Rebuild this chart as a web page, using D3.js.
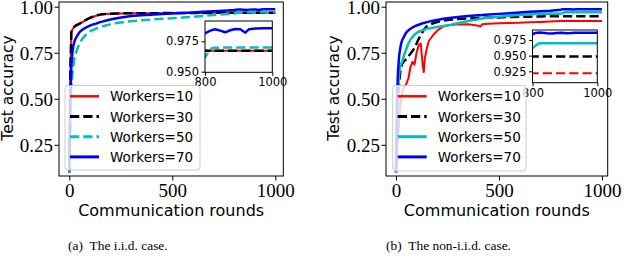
<!DOCTYPE html>
<html><head><meta charset="utf-8">
<script src="https://cdn.jsdelivr.net/npm/d3@7"></script>
<style>
html,body{margin:0;padding:0;background:#fff;}
svg{display:block;}
</style>
</head><body>
<svg id="c" width="624" height="260"></svg>
<script>
// ---------------- data ----------------
const rounds = [0,5,10,15,20,25,30,40,50,60,70,80,90,100,110,120,130,135,140,150,160,180,200,230,260,300,350,400,410,420,450,500,550,600,650,700,750,800,810,820,830,845,860,875,890,905,920,930,950,975,1000];

const seriesNames = ["Workers=10","Workers=30","Workers=50","Workers=70"];

// (a) i.i.d.
const iidW10 = [0.10,0.62,0.86,0.875,0.885,0.89,0.895,0.90,0.907,0.913,0.92,0.927,0.933,0.938,0.943,0.947,0.951,0.953,0.954,0.957,0.959,0.961,0.962,0.963,0.963,0.964,0.964,0.965,0.965,0.965,0.965,0.966,0.966,0.966,0.966,0.967,0.967,0.9673,0.9673,0.9673,0.9673,0.9673,0.9673,0.9673,0.9673,0.9673,0.9673,0.9673,0.9673,0.9673,0.9673];
const iidW30 = [0.10,0.65,0.87,0.88,0.885,0.893,0.897,0.903,0.908,0.915,0.922,0.928,0.934,0.939,0.944,0.948,0.952,0.953,0.955,0.957,0.959,0.961,0.962,0.963,0.964,0.964,0.965,0.965,0.965,0.965,0.965,0.966,0.966,0.966,0.966,0.967,0.967,0.9673,0.9673,0.9673,0.9673,0.9673,0.9673,0.9673,0.9673,0.9673,0.9673,0.9673,0.9673,0.9673,0.9673];
const iidW50 = [0.10,0.30,0.55,0.63,0.68,0.72,0.74,0.775,0.80,0.82,0.835,0.847,0.857,0.865,0.871,0.876,0.881,0.883,0.885,0.889,0.893,0.899,0.904,0.911,0.916,0.921,0.926,0.930,0.931,0.932,0.934,0.937,0.941,0.945,0.950,0.955,0.959,0.9618,0.9660,0.9692,0.9697,0.9698,0.9698,0.9698,0.9698,0.9698,0.9698,0.9698,0.9698,0.9698,0.9698];
const iidW70 = [0.11,0.48,0.68,0.75,0.79,0.81,0.825,0.845,0.862,0.872,0.88,0.886,0.892,0.897,0.901,0.905,0.908,0.910,0.912,0.916,0.919,0.925,0.930,0.937,0.943,0.949,0.953,0.956,0.957,0.958,0.960,0.963,0.966,0.969,0.972,0.975,0.978,0.9816,0.9830,0.9842,0.9849,0.9838,0.9824,0.9841,0.9851,0.9849,0.9821,0.9849,0.9855,0.9857,0.9857];

// (b) non-i.i.d.
const nonW10 = [0.10,0.20,0.30,0.38,0.45,0.50,0.54,0.565,0.58,0.61,0.67,0.70,0.685,0.75,0.79,0.80,0.68,0.645,0.72,0.775,0.815,0.845,0.87,0.893,0.90,0.903,0.905,0.896,0.892,0.905,0.908,0.91,0.912,0.913,0.915,0.917,0.919,0.922,0.922,0.922,0.922,0.922,0.922,0.922,0.922,0.922,0.922,0.922,0.922,0.922,0.922];
const nonW30 = [0.10,0.30,0.48,0.58,0.64,0.67,0.69,0.705,0.715,0.73,0.745,0.76,0.775,0.80,0.825,0.845,0.865,0.875,0.882,0.893,0.90,0.91,0.917,0.924,0.929,0.933,0.936,0.938,0.939,0.940,0.941,0.942,0.944,0.945,0.946,0.947,0.948,0.9485,0.9485,0.9485,0.9485,0.9485,0.9485,0.9485,0.9485,0.9485,0.9485,0.9485,0.9485,0.9485,0.9485];
const nonW50 = [0.10,0.35,0.55,0.63,0.67,0.69,0.70,0.74,0.77,0.80,0.82,0.835,0.848,0.857,0.864,0.869,0.873,0.875,0.877,0.88,0.882,0.886,0.89,0.895,0.90,0.91,0.922,0.932,0.934,0.936,0.94,0.946,0.951,0.955,0.959,0.962,0.963,0.962,0.966,0.9697,0.9697,0.9697,0.9697,0.9697,0.9697,0.9697,0.9697,0.9697,0.9697,0.9697,0.9697];
const nonW70 = [0.11,0.50,0.65,0.73,0.77,0.80,0.818,0.84,0.86,0.871,0.88,0.887,0.893,0.898,0.902,0.906,0.91,0.911,0.913,0.916,0.919,0.924,0.928,0.934,0.938,0.944,0.949,0.953,0.954,0.955,0.957,0.961,0.965,0.969,0.972,0.975,0.978,0.9840,0.9862,0.9868,0.9866,0.9858,0.9852,0.9860,0.9865,0.9858,0.9860,0.9866,0.9866,0.9866,0.9866];

const xTicks = [0, 500, 1000];
const yTicks = [0.25, 0.50, 0.75, 1.00];
const yTickLabels = ["0.25", "0.50", "0.75", "1.00"];
const insetXTicks = [800, 1000];
const insetYTicksA = [0.950, 0.975];
const insetYTicksB = [0.925, 0.950, 0.975];
const xLabel = "Communication rounds";
const yLabel = "Test accuracy";
const captions = ["(a)\u00a0\u00a0The i.i.d. case.", "(b)\u00a0\u00a0The non-i.i.d. case."];

// ---------------- styles ----------------
const colors = ["#ff0000", "#000000", "#00bfbf", "#0000ff"];
const widths = [2, 2.5, 2.5, 2.5];

const svg = d3.select("#c");
let clipId = 0;

function drawPanel(p) {
  const g = svg.append("g");
  const x = d3.scaleLinear().domain(p.xDomain).range([p.left, p.right]);
  const y = d3.scaleLinear().domain(p.yDomain).range([p.bottom, p.top]);
  const cid = "clip" + (clipId++);
  g.append("clipPath").attr("id", cid).append("rect")
    .attr("x", p.left).attr("y", p.top).attr("width", p.right - p.left).attr("height", p.bottom - p.top);

  const line = d3.line().x((d, i) => x(rounds[i])).y(d => y(d));
  const lg = g.append("g").attr("clip-path", `url(#${cid})`);
  p.series.forEach((s, k) => {
    lg.append("path").datum(s).attr("d", line).attr("fill", "none")
      .attr("stroke", colors[k]).attr("stroke-width", widths[k])
      .attr("stroke-dasharray", p.dashed[k] ? "9.25,4" : null)
      .attr("stroke-linejoin", "round");
  });

  // axes
  const xa = g.append("g").attr("transform", `translate(0,${p.bottom})`)
    .call(d3.axisBottom(x).tickValues(xTicks).tickFormat(d3.format("d")).tickSize(4.5).tickPadding(3));
  const ya = g.append("g").attr("transform", `translate(${p.left},0)`)
    .call(d3.axisLeft(y).tickValues(yTicks).tickFormat((d, i) => yTickLabels[i]).tickSize(4.5).tickPadding(1.5));
  [xa, ya].forEach(a => {
    a.select(".domain").remove();
    a.selectAll("line").attr("stroke", "#000").attr("stroke-width", 1);
    a.selectAll("text").attr("font-family", "'Liberation Serif', 'Times New Roman', serif")
      .attr("font-size", 19).attr("fill", "#000");
  });
  xa.selectAll("text").attr("dy", null).attr("y", 20.5);
  ya.selectAll("text").attr("dy", "0.36em");

  g.append("rect").attr("x", p.left).attr("y", p.top).attr("width", p.right - p.left).attr("height", p.bottom - p.top)
    .attr("fill", "none").attr("stroke", "#000").attr("stroke-width", 1);

  // axis titles
  g.append("text").attr("x", (p.left + p.right) / 2).attr("y", 215.7).attr("text-anchor", "middle")
    .attr("font-family", "'DejaVu Sans', sans-serif").attr("font-size", 16).text(xLabel);
  g.append("text").attr("transform", `translate(${p.yLabelX},88) rotate(-90)`).attr("text-anchor", "middle")
    .attr("font-family", "'DejaVu Sans', sans-serif").attr("font-size", 15.5).text(yLabel);

  // caption
  g.append("text").attr("x", p.capX).attr("y", 250).attr("font-family", "'Liberation Serif', serif")
    .attr("font-size", 13.4).text(p.caption);

  // inset
  const ins = p.inset;
  const ix = d3.scaleLinear().domain([800, 1000]).range([ins.left, ins.right]);
  const iy = d3.scaleLinear().domain(ins.yDomain).range([ins.bottom, ins.top]);
  const ig = g.append("g");
  ig.append("rect").attr("x", ins.left).attr("y", ins.top).attr("width", ins.right - ins.left)
    .attr("height", ins.bottom - ins.top).attr("fill", "#fff");
  const icid = "clip" + (clipId++);
  ig.append("clipPath").attr("id", icid).append("rect")
    .attr("x", ins.left).attr("y", ins.top).attr("width", ins.right - ins.left).attr("height", ins.bottom - ins.top);
  const iline = d3.line().defined((d, i) => rounds[i] >= 750).x((d, i) => ix(rounds[i])).y(d => iy(d));
  const ilg = ig.append("g").attr("clip-path", `url(#${icid})`);
  p.series.forEach((s, k) => {
    ilg.append("path").datum(s).attr("d", iline).attr("fill", "none")
      .attr("stroke", colors[k]).attr("stroke-width", widths[k])
      .attr("stroke-dasharray", (p.dashed[k] || ins.dashAll[k]) ? "9.25,4" : null)
      .attr("stroke-linejoin", "round");
  });
  const ixa = ig.append("g").attr("transform", `translate(0,${ins.bottom})`)
    .call(d3.axisBottom(ix).tickValues(insetXTicks).tickFormat(d3.format("d")).tickSize(3.5).tickPadding(2.5));
  const iya = ig.append("g").attr("transform", `translate(${ins.left},0)`)
    .call(d3.axisLeft(iy).tickValues(ins.yTicks).tickFormat(d3.format(".3f")).tickSize(3.5).tickPadding(2.5));
  [ixa, iya].forEach(a => {
    a.select(".domain").remove();
    a.selectAll("line").attr("stroke", "#000");
    a.selectAll("text").attr("font-family", "'DejaVu Sans', sans-serif").attr("font-size", 11.5).attr("fill", "#000");
  });
  ig.append("rect").attr("x", ins.left).attr("y", ins.top).attr("width", ins.right - ins.left)
    .attr("height", ins.bottom - ins.top).attr("fill", "none").attr("stroke", "#000").attr("stroke-width", 1);

  // legend
  const L = p.legend;
  const leg = g.append("g");
  leg.append("rect").attr("x", L.x).attr("y", L.y).attr("width", L.w).attr("height", L.h)
    .attr("rx", 3).attr("fill", "#fff").attr("fill-opacity", 0.8).attr("stroke", "#cccccc").attr("stroke-width", 1);
  seriesNames.forEach((name, k) => {
    const cy = L.y + 10.8 + k * 20.2;
    leg.append("line").attr("x1", L.x + 5).attr("x2", L.x + 34).attr("y1", cy).attr("y2", cy)
      .attr("stroke", colors[k]).attr("stroke-width", widths[k] + 0.5)
      .attr("stroke-dasharray", p.dashed[k] ? "9.25,4" : null);
    leg.append("text").attr("x", L.x + 45).attr("y", cy + 5).attr("font-family", "'DejaVu Sans', sans-serif")
      .attr("font-size", 13.5).text(name);
  });
}

drawPanel({
  left: 59, right: 283.3, top: 2, bottom: 176,
  xDomain: [-50, 1039], yDomain: [0.0806, 1.0255],
  series: [iidW10, iidW30, iidW50, iidW70],
  dashed: [false, true, true, false],
  yLabelX: 12.5, capX: 68, caption: captions[0],
  inset: { left: 205, right: 272.3, top: 21, bottom: 72.3, yDomain: [0.9495, 0.9917], yTicks: insetYTicksA, dashAll: [false, false, false, false] },
  legend: { x: 65, y: 85.5, w: 135, h: 84.5 }
});

drawPanel({
  left: 386, right: 607.7, top: 2, bottom: 176,
  xDomain: [-48.5, 1028], yDomain: [0.0806, 1.0255],
  series: [nonW10, nonW30, nonW50, nonW70],
  dashed: [false, true, false, false],
  yLabelX: 338.5, capX: 386, caption: captions[1],
  inset: { left: 532.5, right: 597.3, top: 30, bottom: 82.7, yDomain: [0.9069, 0.9908], yTicks: insetYTicksB, dashAll: [true, false, false, false] },
  legend: { x: 392.7, y: 85.5, w: 133.3, h: 85.5 }
});
</script>
</body></html>
